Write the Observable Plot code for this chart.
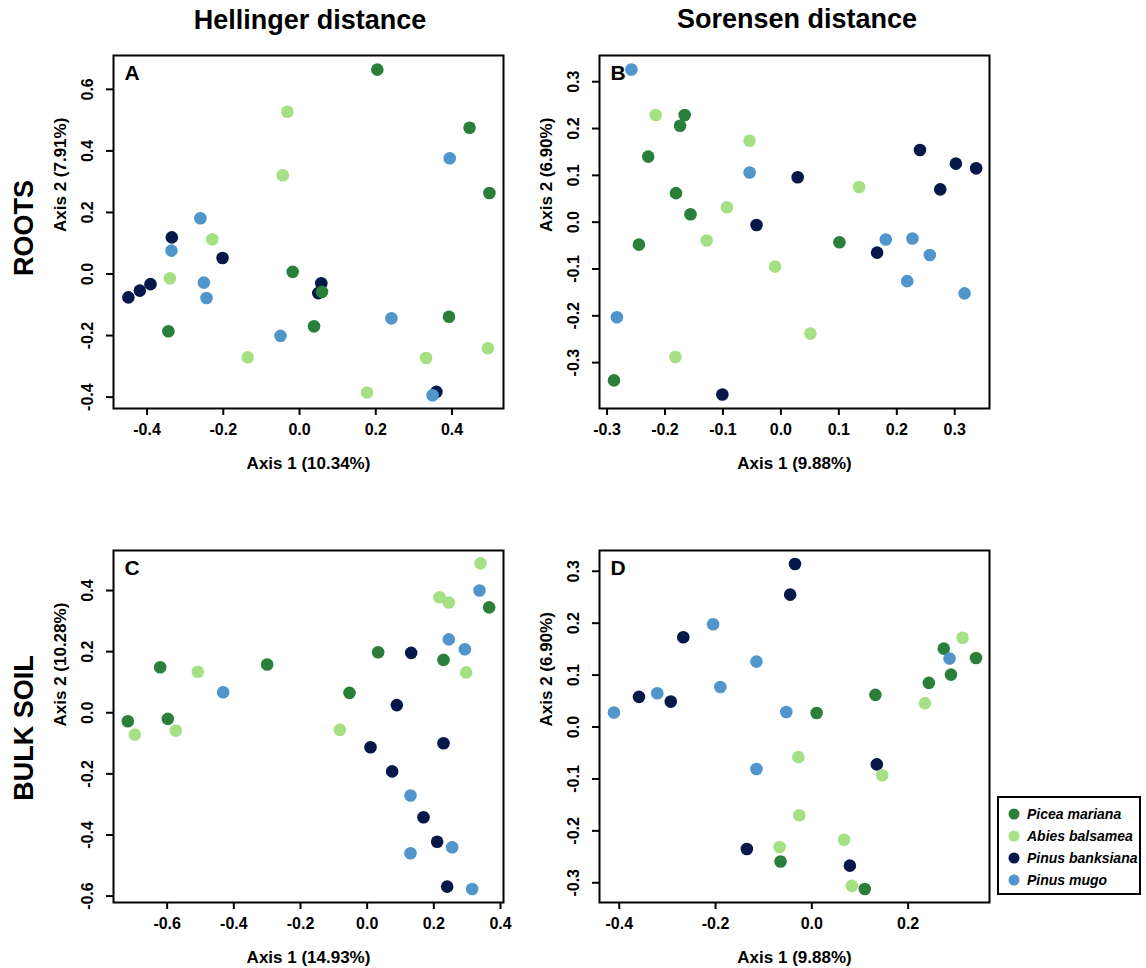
<!DOCTYPE html>
<html>
<head>
<meta charset="utf-8">
<script src="https://cdn.jsdelivr.net/npm/d3@7"></script>
<script src="https://cdn.jsdelivr.net/npm/@observablehq/plot@0.6"></script>
<style>
  html, body { margin: 0; padding: 0; background: #fff; }
  #chart { position: relative; width: 1146px; height: 968px; font-family: "Liberation Sans", Arial, sans-serif; color: #000; }
  .abs { position: absolute; }
  .title { font-weight: bold; font-size: 27px; transform: translate(-50%, -50%); white-space: nowrap; }
  .row { font-weight: bold; font-size: 27px; transform: translate(-50%, -50%) rotate(-90deg); white-space: nowrap; }
  #legend { left: 997px; top: 796px; width: 144px; height: 99px; border: 2px solid #000; box-sizing: border-box; background: #fff; }
  .entry { position: absolute; left: 8px; height: 20px; display: flex; align-items: center; font-style: italic; font-weight: bold; font-size: 14px; white-space: nowrap; }
  .entry svg { margin-right: 6px; }
</style>
</head>
<body>
<div id="chart"></div>
<script>
// ---- data ----
const species = ["Picea mariana", "Abies balsamea", "Pinus banksiana", "Pinus mugo"];
const colors = ["#2a7f3b", "#a5e184", "#05184a", "#5096cd"];
const drawOrder = ["Pinus banksiana", "Picea mariana", "Abies balsamea", "Pinus mugo"];

// Panel A: roots, Hellinger
const A_picea = [[0.204,0.664],[0.446,0.475],[0.498,0.263],[-0.018,0.007],[0.059,-0.058],[0.038,-0.170],[0.392,-0.139],[-0.344,-0.186]];
const A_abies = [[-0.032,0.527],[-0.044,0.321],[-0.229,0.113],[-0.340,-0.014],[-0.136,-0.271],[0.177,-0.385],[0.332,-0.273],[0.494,-0.241]];
const A_banks = [[-0.335,0.119],[-0.202,0.052],[-0.391,-0.033],[-0.419,-0.054],[-0.449,-0.076],[0.057,-0.030],[0.049,-0.062],[0.359,-0.383]];
const A_mugo  = [[0.394,0.376],[-0.260,0.181],[-0.336,0.076],[-0.251,-0.028],[-0.244,-0.078],[-0.050,-0.201],[0.241,-0.144],[0.349,-0.394]];

// Panel B: roots, Sorensen
const B_picea = [[-0.166,0.229],[-0.174,0.206],[-0.229,0.140],[-0.181,0.062],[-0.156,0.017],[-0.245,-0.048],[0.101,-0.043],[-0.288,-0.338]];
const B_abies = [[-0.216,0.229],[-0.054,0.174],[0.135,0.075],[-0.093,0.032],[-0.128,-0.039],[-0.010,-0.095],[0.051,-0.238],[-0.182,-0.288]];
const B_banks = [[0.240,0.154],[0.302,0.125],[0.337,0.115],[0.275,0.070],[0.029,0.096],[-0.042,-0.006],[0.166,-0.065],[-0.101,-0.368]];
const B_mugo  = [[-0.258,0.326],[-0.054,0.106],[0.181,-0.037],[0.227,-0.035],[0.257,-0.070],[0.218,-0.126],[0.317,-0.152],[-0.283,-0.203]];

// Panel C: bulk soil, Hellinger
const C_picea = [[0.366,0.345],[0.033,0.198],[0.229,0.173],[-0.621,0.149],[-0.300,0.158],[-0.053,0.065],[-0.598,-0.020],[-0.718,-0.028]];
const C_abies = [[0.340,0.489],[0.217,0.378],[0.245,0.361],[0.297,0.132],[-0.508,0.134],[-0.574,-0.058],[-0.697,-0.071],[-0.082,-0.056]];
const C_banks = [[0.132,0.196],[0.089,0.025],[0.229,-0.100],[0.010,-0.113],[0.075,-0.192],[0.169,-0.342],[0.210,-0.422],[0.240,-0.569]];
const C_mugo  = [[0.337,0.400],[0.245,0.240],[0.293,0.208],[-0.432,0.067],[0.130,-0.271],[0.130,-0.460],[0.255,-0.440],[0.315,-0.577]];

// Panel D: bulk soil, Sorensen
const D_picea = [[0.274,0.151],[0.341,0.133],[0.289,0.101],[0.243,0.085],[0.132,0.062],[0.010,0.027],[-0.065,-0.259],[0.110,-0.312]];
const D_abies = [[0.313,0.172],[0.235,0.046],[-0.028,-0.058],[0.146,-0.093],[-0.026,-0.170],[-0.067,-0.231],[0.067,-0.217],[0.083,-0.306]];
const D_banks = [[-0.035,0.314],[-0.045,0.255],[-0.267,0.173],[-0.359,0.058],[-0.293,0.049],[0.135,-0.072],[-0.135,-0.235],[0.079,-0.267]];
const D_mugo  = [[-0.205,0.198],[-0.115,0.126],[-0.190,0.077],[-0.321,0.065],[-0.411,0.028],[-0.053,0.029],[-0.115,-0.081],[0.286,0.132]];

// ticks
const A_xticks = [-0.4, -0.2, 0, 0.2, 0.4];
const A_yticks = [-0.4, -0.2, 0, 0.2, 0.4, 0.6];
const B_xticks = [-0.3, -0.2, -0.1, 0, 0.1, 0.2, 0.3];
const B_yticks = [-0.3, -0.2, -0.1, 0, 0.1, 0.2, 0.3];
const C_xticks = [-0.6, -0.4, -0.2, 0, 0.2, 0.4];
const C_yticks = [-0.6, -0.4, -0.2, 0, 0.2, 0.4];
const D_xticks = [-0.4, -0.2, 0, 0.2];
const D_yticks = [-0.3, -0.2, -0.1, 0, 0.1, 0.2, 0.3];

// labels
const colTitles = ["Hellinger distance", "Sorensen distance"];
const rowTitles = ["ROOTS", "BULK SOIL"];
const A_labels = ["Axis 1 (10.34%)", "Axis 2 (7.91%)"];
const B_labels = ["Axis 1 (9.88%)", "Axis 2 (6.90%)"];
const C_labels = ["Axis 1 (14.93%)", "Axis 2 (10.28%)"];
const D_labels = ["Axis 1 (9.88%)", "Axis 2 (6.90%)"];

// ---- build ----
const fmt = d => d.toFixed(1);
function rows(picea, abies, banks, mugo) {
  const bySp = {"Picea mariana": picea, "Abies balsamea": abies, "Pinus banksiana": banks, "Pinus mugo": mugo};
  return drawOrder.flatMap(sp => bySp[sp].map(([x, y]) => ({x, y, sp})));
}

const mL = 80, mR = 10, mT = 10, mB = 70;
function panel({letter, data, xdom, ydom, xticks, yticks, labels, left, top, fw, fh}) {
  const p = Plot.plot({
    width: fw + mL + mR, height: fh + mT + mB,
    marginLeft: mL, marginRight: mR, marginTop: mT, marginBottom: mB,
    x: {domain: xdom}, y: {domain: ydom},
    color: {domain: species, range: colors},
    style: {fontFamily: '"Liberation Sans", Arial, sans-serif', fontSize: "16px", fontWeight: "bold", background: "transparent", overflow: "visible", color: "#000"},
    marks: [
      Plot.dot(data, {x: "x", y: "y", fill: "sp", r: 6.3}),
      Plot.frame({stroke: "#000", strokeWidth: 2}),
      Plot.axisX({ticks: xticks, tickSize: 7, tickPadding: 8, tickFormat: fmt, strokeWidth: 2, label: null}),
      Plot.axisY({ticks: yticks, tickSize: 7, tickFormat: () => "", strokeWidth: 2, label: null}),
      Plot.text(yticks, {y: d => d, text: fmt, frameAnchor: "left", dx: -26, rotate: -90, textAnchor: "middle", lineAnchor: "middle"}),
      Plot.text([labels[0]], {text: d => d, frameAnchor: "bottom", dy: 55, fontSize: 17, lineAnchor: "middle"}),
      Plot.text([labels[1]], {text: d => d, frameAnchor: "left", dx: -53, rotate: -90, fontSize: 17, lineAnchor: "middle"}),
      Plot.text([letter], {text: d => d, frameAnchor: "top-left", dx: 11, dy: 10, fontSize: 21, lineAnchor: "top", textAnchor: "start"})
    ]
  });
  p.style.position = "absolute";
  p.style.left = left + "px";
  p.style.top = top + "px";
  return p;
}

const chart = document.getElementById("chart");
chart.append(panel({letter: "A", data: rows(A_picea, A_abies, A_banks, A_mugo), xdom: [-0.488, 0.535], ydom: [-0.437, 0.710], xticks: A_xticks, yticks: A_yticks, labels: A_labels, left: 33, top: 45, fw: 390, fh: 353}));
chart.append(panel({letter: "B", data: rows(B_picea, B_abies, B_banks, B_mugo), xdom: [-0.313, 0.360], ydom: [-0.398, 0.356], xticks: B_xticks, yticks: B_yticks, labels: B_labels, left: 519, top: 45, fw: 390, fh: 353}));
chart.append(panel({letter: "C", data: rows(C_picea, C_abies, C_banks, C_mugo), xdom: [-0.761, 0.409], ydom: [-0.621, 0.531], xticks: C_xticks, yticks: C_yticks, labels: C_labels, left: 33, top: 540, fw: 390, fh: 352}));
chart.append(panel({letter: "D", data: rows(D_picea, D_abies, D_banks, D_mugo), xdom: [-0.441, 0.369], ydom: [-0.338, 0.340], xticks: D_xticks, yticks: D_yticks, labels: D_labels, left: 519, top: 540, fw: 390, fh: 352}));

// titles
const tPos = [[310, 20], [797, 19]];
colTitles.forEach((t, i) => {
  const d = document.createElement("div");
  d.className = "abs title"; d.textContent = t;
  d.style.left = tPos[i][0] + "px"; d.style.top = tPos[i][1] + "px";
  chart.append(d);
});
const rPos = [[24, 228], [24, 728]];
rowTitles.forEach((t, i) => {
  const d = document.createElement("div");
  d.className = "abs row"; d.textContent = t;
  d.style.left = rPos[i][0] + "px"; d.style.top = rPos[i][1] + "px";
  chart.append(d);
});

// legend
const leg = document.createElement("div");
leg.id = "legend"; leg.className = "abs";
species.forEach((s, i) => {
  const e = document.createElement("div");
  e.className = "entry";
  e.style.top = (6 + i * 22) + "px";
  e.innerHTML = `<svg width="14" height="14"><circle cx="7" cy="7" r="5.5" fill="${colors[i]}"/></svg><span>${s}</span>`;
  leg.append(e);
});
chart.append(leg);
</script>
</body>
</html>
